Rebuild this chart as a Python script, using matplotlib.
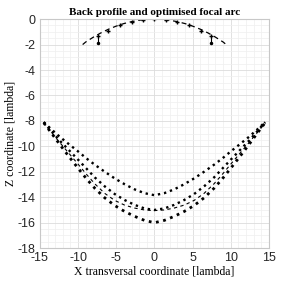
import numpy as np
import matplotlib.pyplot as plt
from matplotlib.ticker import MultipleLocator

plt.rcParams['axes.unicode_minus'] = False

# back profile (dashed arc near z = 0)
arc_x = [-9.4, -9, -8, -7, -6, -5, -4, -3, -2, -1, 0, 1, 2, 3, 4, 5, 6, 7, 8, 9, 9.4]
arc_z = [-2.0, -1.8, -1.42, -1.08, -0.79, -0.55, -0.35, -0.2, -0.09, -0.02, 0.0,
         -0.02, -0.09, -0.2, -0.35, -0.55, -0.79, -1.08, -1.42, -1.8, -2.0]

# element markers on the back profile
elem_x = [-7.4, -6.1, -4.5, -3.0, -1.5, 0.0, 1.5, 3.0, 4.5, 6.1, 7.4]
elem_z = [-1.3, -0.95, -0.47, -0.21, -0.05, 0.0, -0.05, -0.21, -0.47, -0.95, -1.3]
elem_low_x = [-7.4, 7.4]
elem_low_z = [-1.9, -1.9]

# focal arcs
fx = [-14.5, -13.5, -12.4, -11.2, -10, -8.9, -7.8, -6.5, -5.2, -3.9, -2.6, -1.3, 0,
      1.3, 2.6, 3.9, 5.2, 6.5, 7.8, 8.9, 10, 11.2, 12.4, 13.5, 14.5]
z_top = [-8.1, -8.66, -9.25, -9.83, -10.4, -10.95, -11.45, -12.0, -12.52, -12.98, -13.38, -13.68, -13.84,
         -13.68, -13.38, -12.98, -12.52, -12.0, -11.45, -10.95, -10.4, -9.83, -9.25, -8.66, -8.1]
z_mid = [-8.1, -8.8, -9.55, -10.3, -11.05, -11.75, -12.45, -13.15, -13.75, -14.22, -14.6, -14.88, -15.0,
         -14.88, -14.6, -14.22, -13.75, -13.15, -12.45, -11.75, -11.05, -10.3, -9.55, -8.8, -8.1]
z_bot = [-8.15, -8.95, -9.85, -10.8, -11.72, -12.55, -13.3, -14.05, -14.65, -15.12, -15.5, -15.82, -16.0,
         -15.82, -15.5, -15.12, -14.65, -14.05, -13.3, -12.55, -11.72, -10.8, -9.85, -8.95, -8.15]
z_dash = [-8.15, -8.9, -9.7, -10.55, -11.4, -12.2, -12.95, -13.7, -14.25, -14.62, -14.85, -15.0, -15.05,
          -15.0, -14.85, -14.62, -14.25, -13.7, -12.95, -12.2, -11.4, -10.55, -9.7, -8.9, -8.15]

fig = plt.figure(figsize=(2.81, 2.81), dpi=100)
ax = fig.add_axes([0.142, 0.117, 0.815, 0.815])

ax.plot(arc_x, arc_z, 'k--', lw=0.9, dashes=(4, 3))
ax.plot(elem_x, elem_z, 'k+', ms=3.5, mew=1.0)
for x0, z0 in zip(elem_low_x, elem_low_z):
    ax.plot([x0, x0], [z0, -1.3], 'k-', lw=0.8)
ax.plot(elem_low_x, elem_low_z, 'k.', ms=3)

ax.plot(fx, z_top, 'k:', lw=1.7)
ax.plot(fx, z_mid, 'k:', lw=1.7)
ax.plot(fx, z_bot, 'k:', lw=2.0)
ax.plot(fx, z_dash, 'k--', lw=0.8, dashes=(3, 3))

ax.set_xlim(-15, 15)
ax.set_ylim(-18, 0)
ax.xaxis.set_major_locator(MultipleLocator(5))
ax.xaxis.set_minor_locator(MultipleLocator(1))
ax.yaxis.set_major_locator(MultipleLocator(2))
ax.yaxis.set_minor_locator(MultipleLocator(0.5))
ax.grid(which='major', color='#dcdcdc', lw=0.6)
ax.grid(which='minor', color='#efefef', lw=0.5)
ax.set_axisbelow(True)
ax.tick_params(which='both', direction='in', length=0, colors='#262626', pad=3)
for lab in ax.get_xticklabels() + ax.get_yticklabels():
    lab.set_fontfamily('Liberation Sans')
    lab.set_fontsize(9)
for s in ax.spines.values():
    s.set_color('#c8c8c8')
    s.set_linewidth(0.8)

ax.set_title('Back profile and optimised focal arc', fontfamily='Liberation Serif',
             fontweight='bold', fontsize=8, pad=3)
ax.set_xlabel('X transversal coordinate [lambda]', fontfamily='Liberation Serif', fontsize=8.5, labelpad=1)
ax.set_ylabel('Z coordinate [lambda]', fontfamily='Liberation Serif', fontsize=8.5, labelpad=1)

plt.savefig('out.png', dpi=100)
